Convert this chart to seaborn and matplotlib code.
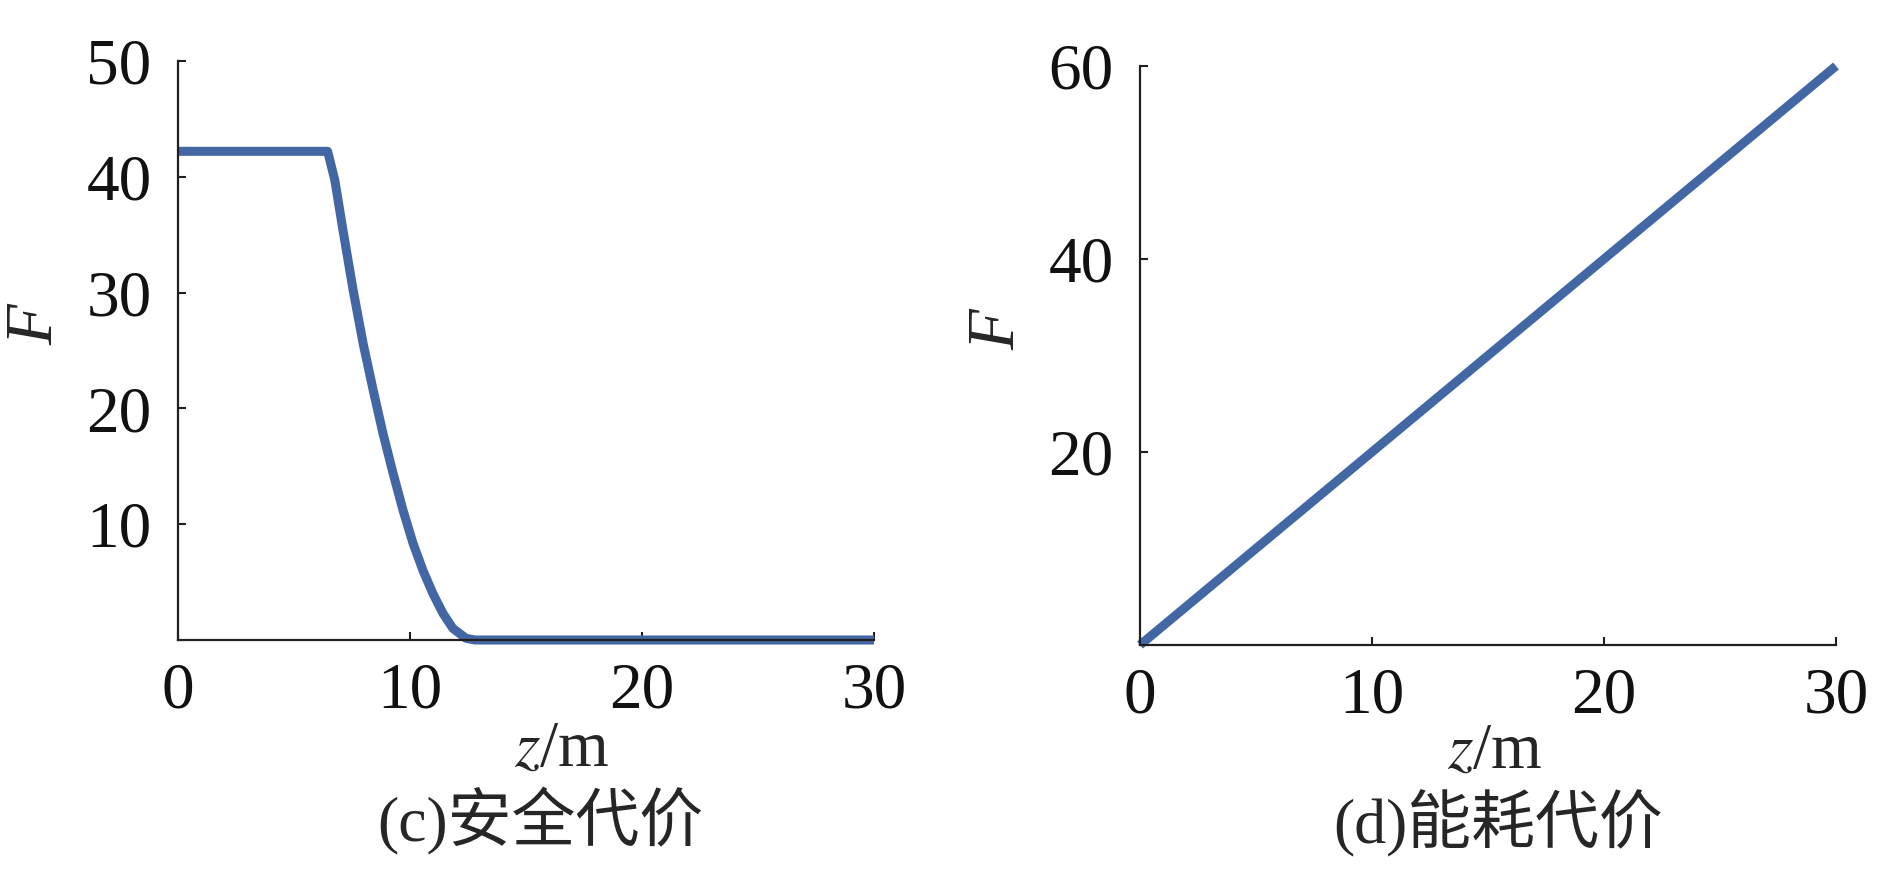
import matplotlib
matplotlib.use("Agg")
import matplotlib.pyplot as plt
import seaborn as sns
import pandas as pd

# ---- data ----
z_safety = [0, 6.45, 6.76, 7.11, 7.55, 7.98, 8.41, 8.84, 9.27, 9.70, 10.13,
            10.56, 10.99, 11.42, 11.85, 12.41, 12.8, 30]
F_safety = [42.2, 42.2, 39.7, 35.4, 30.2, 25.6, 21.6, 17.8, 14.4, 11.2, 8.35,
            6.0, 4.0, 2.3, 1.0, 0.15, 0.0, 0.0]
z_energy = [0, 30]
F_energy = [0, 60]

x_ticks = [0, 10, 20, 30]
y_ticks_left = [10, 20, 30, 40, 50]
y_ticks_right = [20, 40, 60]
captions = ["(c)安全代价", "(d)能耗代价"]
x_label = "$z$/m"
y_label = "F"

# ---- style ----
sns.set_style("ticks")
plt.rcParams['font.family'] = ['Liberation Serif', 'Noto Sans CJK SC', 'DejaVu Sans']
plt.rcParams['mathtext.fontset'] = 'stix'

LINE = "#4267a4"
SPINE = "#231f20"
TICK_FS = 47

fig = plt.figure(figsize=(18.9, 8.73), dpi=100)
axL = fig.add_axes([178/1890, 1-640/873, (874-178)/1890, (640-61)/873])
axR = fig.add_axes([1140/1890, 1-645/873, (1836-1140)/1890, (645-66)/873])

dfL = pd.DataFrame({"z": z_safety, "F": F_safety})
dfR = pd.DataFrame({"z": z_energy, "F": F_energy})

sns.lineplot(data=dfL, x="z", y="F", ax=axL, color=LINE, linewidth=6.5,
             estimator=None, sort=False)
sns.lineplot(data=dfR, x="z", y="F", ax=axR, color=LINE, linewidth=6.5,
             estimator=None, sort=False)

for ax, yt, ymax in [(axL, y_ticks_left, 50), (axR, y_ticks_right, 60)]:
    for ln in ax.get_lines():
        ln.set_clip_on(False)
        ln.set_solid_capstyle('butt')
        ln.set_solid_joinstyle('round')
    ax.set_xlim(0, 30)
    ax.set_ylim(0, ymax)
    ax.set_xticks(x_ticks)
    ax.set_yticks(yt)
    ax.set_xlabel("")
    ax.set_ylabel("")
    sns.despine(ax=ax)
    for s in ["left", "bottom"]:
        ax.spines[s].set_color(SPINE)
        ax.spines[s].set_linewidth(1.6)
    ax.tick_params(axis="both", direction="in", length=6, width=1.5,
                   color=SPINE, labelsize=TICK_FS, labelcolor="#111111")
    ax.tick_params(axis="y", pad=19)
    ax.tick_params(axis="x", pad=16)

# axis labels and captions
fig.text(36/1890, 1-325/873, y_label, fontsize=48, fontstyle="italic",
         rotation=90, ha="center", va="center")
fig.text(998/1890, 1-330/873, y_label, fontsize=48, fontstyle="italic",
         rotation=90, ha="center", va="center")
fig.text(562/1890, 1-750/873, x_label, fontsize=47, ha="center", va="center")
fig.text(1495/1890, 1-752/873, x_label, fontsize=47, ha="center", va="center")
fig.text(540/1890, 1-820/873, captions[0], fontsize=46, ha="center", va="center")
fig.text(1498/1890, 1-823/873, captions[1], fontsize=46, ha="center", va="center")

fig.savefig("out.png", dpi=100, facecolor="white")
